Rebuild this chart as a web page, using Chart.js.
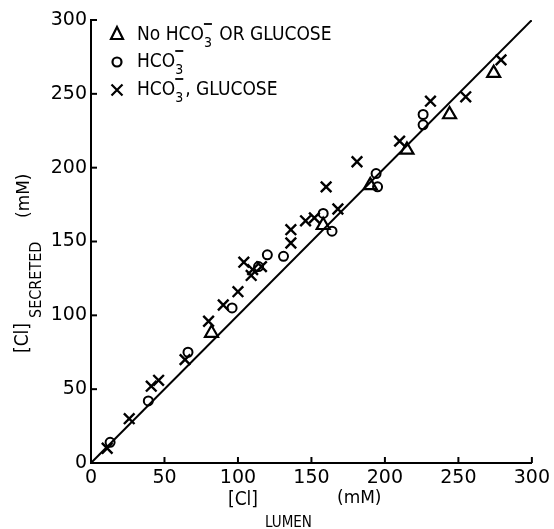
<!DOCTYPE html>
<html>
<head>
<meta charset="utf-8">
<script src="https://cdn.jsdelivr.net/npm/chart.js@4/dist/chart.umd.min.js"></script>
<style>
  html, body { margin: 0; padding: 0; background: #fff; }
  #wrap { width: 554px; height: 529px; }
</style>
</head>
<body>
<div id="wrap"><canvas id="c" width="554" height="529"></canvas></div>
<script>
// data (mM)
const noBicarbX = [82, 158, 190, 215, 244, 274];
const noBicarbY = [88, 161, 188, 212, 236, 264];

const bicarbX = [13, 39, 66, 96, 114, 120, 131, 158, 164, 194, 195, 226, 226];
const bicarbY = [14, 42, 75, 105, 133, 141, 140, 169, 157, 196, 187, 229, 236];

const glucX = [11, 26, 41, 46, 64, 80, 90, 100, 104, 109, 110, 116, 136, 136, 146, 152, 160, 168, 181, 210, 231, 255, 279];
const glucY = [10, 30, 52, 56, 70, 96, 107, 116, 136, 127, 131, 133, 149, 158, 164, 166, 187, 172, 204, 218, 245, 248, 273];

// line of identity
const lineX = [0, 300];
const lineY = [0, 300];

// legend text: before + HCO3- + after
const legendParts = [
  { before: 'No ', after: ' OR GLUCOSE' },
  { before: '', after: '' },
  { before: '', after: ', GLUCOSE' }
];

const NARROW = '"Liberation Sans Narrow", "DejaVu Sans Condensed", "Liberation Sans", sans-serif';
const WIDE = '"DejaVu Sans", sans-serif';

function pts(xs, ys) {
  return xs.map((x, i) => ({ x: x, y: ys[i] }));
}

// draws HCO with subscript 3 and a minus stacked above it
function drawHCO(ctx, x, y) {
  ctx.font = '19px ' + NARROW;
  ctx.fillText('HCO', x, y);
  let w = ctx.measureText('HCO').width;
  ctx.font = '14px ' + NARROW;
  ctx.fillText('3', x + w, y + 7);
  let w3 = ctx.measureText('3').width;
  ctx.lineWidth = 1.8;
  ctx.beginPath();
  ctx.moveTo(x + w, y - 16);
  ctx.lineTo(x + w + w3, y - 16);
  ctx.stroke();
  return x + w + w3;
}

function drawSymbol(ctx, style, x, y) {
  ctx.lineWidth = 2.2;
  ctx.beginPath();
  if (style === 'triangle') {
    ctx.moveTo(x, y - 7);
    ctx.lineTo(x + 6, y + 5);
    ctx.lineTo(x - 6, y + 5);
    ctx.closePath();
  } else if (style === 'circle') {
    ctx.arc(x, y, 4.5, 0, Math.PI * 2);
  } else {
    ctx.moveTo(x - 5.5, y - 5.5); ctx.lineTo(x + 5.5, y + 5.5);
    ctx.moveTo(x + 5.5, y - 5.5); ctx.lineTo(x - 5.5, y + 5.5);
  }
  ctx.stroke();
}

const decor = {
  id: 'decor',
  afterDraw(chart) {
    const ctx = chart.ctx;
    const xs = chart.scales.x, ys = chart.scales.y;
    ctx.save();
    ctx.strokeStyle = '#000';
    ctx.fillStyle = '#000';

    // inward tick marks
    ctx.lineWidth = 2;
    xs.ticks.forEach(t => {
      const p = xs.getPixelForValue(t.value);
      ctx.beginPath(); ctx.moveTo(p, ys.bottom); ctx.lineTo(p, ys.bottom - 6); ctx.stroke();
    });
    ys.ticks.forEach(t => {
      const p = ys.getPixelForValue(t.value);
      ctx.beginPath(); ctx.moveTo(xs.left, p); ctx.lineTo(xs.left + 6, p); ctx.stroke();
    });

    // legend inside the plot
    const rows = [34, 62, 90];
    const bases = [40, 67, 95];
    const styles = ['triangle', 'circle', 'crossRot'];
    ctx.textBaseline = 'alphabetic';
    ctx.textAlign = 'left';
    legendParts.forEach((p, i) => {
      drawSymbol(ctx, styles[i], 117, rows[i]);
      let x = 137;
      ctx.font = '19px ' + NARROW;
      if (p.before) { ctx.fillText(p.before, x, bases[i]); x += ctx.measureText(p.before).width; }
      x = drawHCO(ctx, x, bases[i]);
      ctx.font = '19px ' + NARROW;
      if (p.after) ctx.fillText(p.after, x + 2, bases[i]);
    });

    // x title: [Cl] LUMEN (mM)
    ctx.font = '19px ' + NARROW;
    ctx.fillText('[Cl]', 228, 505);
    ctx.font = '15px ' + NARROW;
    ctx.fillText('LUMEN', 265, 527);
    ctx.font = '17px ' + WIDE;
    ctx.fillText('(mM)', 337, 503);

    // y title, rotated
    ctx.rotate(-Math.PI / 2);
    ctx.font = '19px ' + NARROW;
    ctx.fillText('[Cl]', -353, 28);
    ctx.font = '16px ' + NARROW;
    ctx.fillText('SECRETED', -318, 41);
    ctx.font = '17px ' + WIDE;
    ctx.fillText('(mM)', -218, 29);
    ctx.restore();
  }
};

const axisStyle = (fitKey, fitVal) => ({
  type: 'linear',
  min: 0,
  max: 300,
  ticks: {
    stepSize: 50,
    color: '#000',
    font: { family: 'DejaVu Sans', size: 19 },
    padding: 4,
    maxRotation: 0,
    autoSkip: false
  },
  grid: { drawOnChartArea: false, drawTicks: false },
  border: { color: '#000', width: 2 },
  afterFit: s => { s[fitKey] = fitVal; }
});

new Chart(document.getElementById('c'), {
  type: 'scatter',
  data: {
    datasets: [
      {
        label: 'identity',
        type: 'line',
        data: pts(lineX, lineY),
        borderColor: '#000',
        borderWidth: 2,
        pointRadius: 0,
        fill: false
      },
      {
        label: 'No HCO₃⁻ OR GLUCOSE',
        data: pts(noBicarbX, noBicarbY),
        pointStyle: 'triangle',
        pointRadius: 7.5,
        borderColor: '#000',
        borderWidth: 2.2,
        backgroundColor: 'rgba(255,255,255,0)'
      },
      {
        label: 'HCO₃⁻',
        data: pts(bicarbX, bicarbY),
        pointStyle: 'circle',
        pointRadius: 4.5,
        borderColor: '#000',
        borderWidth: 2,
        backgroundColor: 'rgba(255,255,255,0)'
      },
      {
        label: 'HCO₃⁻, GLUCOSE',
        data: pts(glucX, glucY),
        pointStyle: 'crossRot',
        pointRadius: 7.5,
        borderColor: '#000',
        borderWidth: 2.4
      }
    ]
  },
  options: {
    responsive: false,
    animation: false,
    layout: { padding: { left: 0, right: 22, top: 20, bottom: 0 } },
    plugins: { legend: { display: false }, tooltip: { enabled: false } },
    scales: {
      x: axisStyle('height', 66),
      y: axisStyle('width', 91)
    }
  },
  plugins: [decor]
});
</script>
</body>
</html>
